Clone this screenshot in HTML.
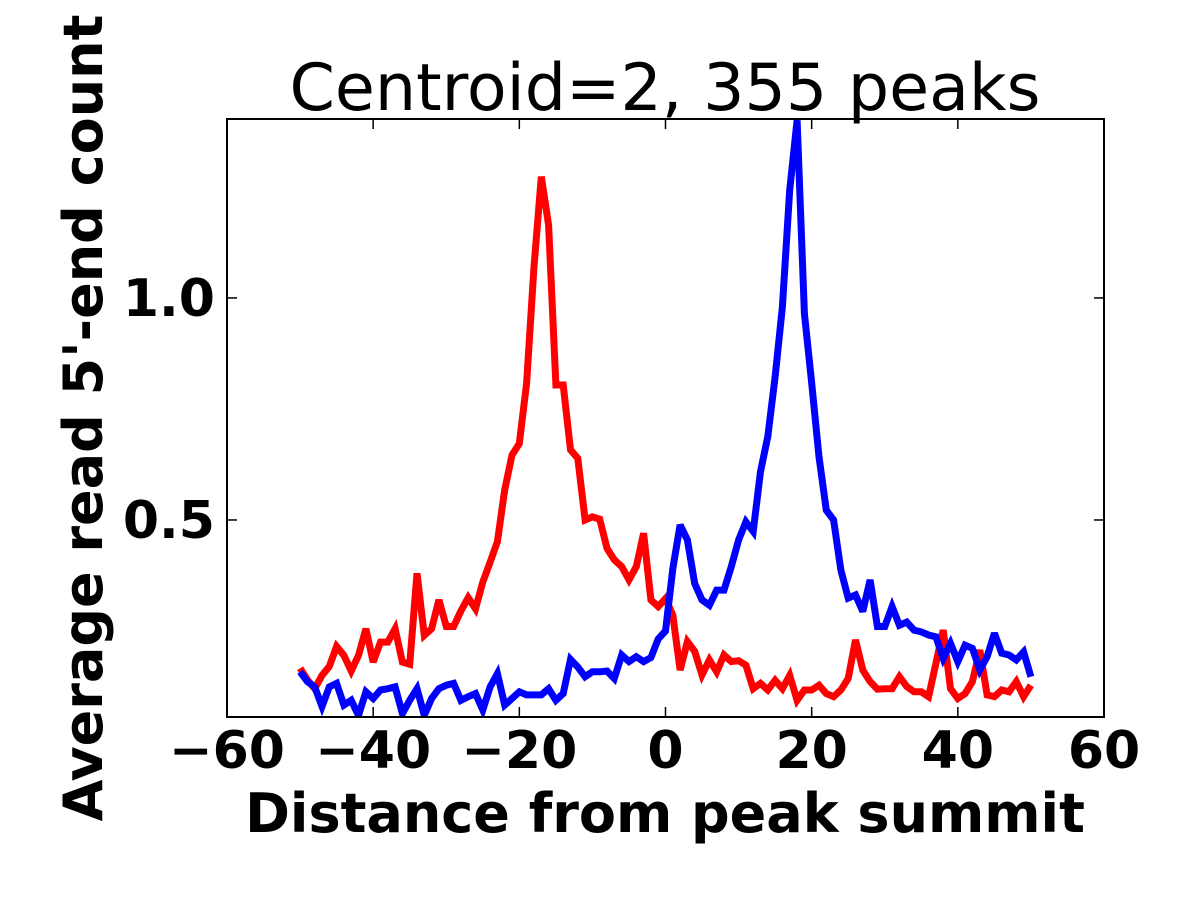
<!DOCTYPE html>
<html><head><meta charset="utf-8"><style>
body{margin:0;background:#fff;}
svg{display:block;font-family:"DejaVu Sans","Liberation Sans",sans-serif;}
</style></head><body>
<svg id="chart" width="1200" height="900">
<text x="665" y="110" font-size="65" text-anchor="middle">Centroid=2, 355 peaks</text>
<text x="665" y="832" font-size="54" font-weight="bold" text-anchor="middle">Distance from peak summit</text>
<text transform="translate(102,418) rotate(-90)" font-size="54" font-weight="bold" text-anchor="middle">Average read 5'-end count</text>
<g id="ticks"></g>
<g id="lines"></g>
<rect x="227" y="119" width="877" height="598" fill="none" stroke="#000" stroke-width="2"/>
</svg>
<script>
const xs = [];
for (let i = -50; i <= 50; i++) xs.push(i);
const redValues = [0.166,0.14,0.12,0.15,0.17,0.215,0.195,0.16,0.195,0.255,0.18,0.225,0.225,0.255,0.18,0.175,0.38,0.24,0.255,0.32,0.26,0.26,0.295,0.325,0.30,0.36,0.405,0.451,0.568,0.646,0.672,0.808,1.07,1.273,1.164,0.804,0.804,0.658,0.639,0.50,0.507,0.502,0.436,0.41,0.395,0.365,0.395,0.47,0.32,0.305,0.323,0.286,0.162,0.226,0.204,0.151,0.185,0.158,0.196,0.181,0.183,0.173,0.12,0.132,0.117,0.139,0.12,0.15,0.094,0.117,0.117,0.128,0.109,0.102,0.117,0.143,0.23,0.162,0.136,0.119,0.12,0.12,0.147,0.125,0.113,0.113,0.102,0.177,0.252,0.12,0.098,0.109,0.136,0.207,0.106,0.102,0.117,0.113,0.136,0.102,0.128];
const blueValues = [0.158,0.136,0.124,0.08,0.124,0.132,0.083,0.094,0.06,0.113,0.098,0.117,0.12,0.124,0.064,0.094,0.12,0.06,0.098,0.12,0.128,0.132,0.094,0.102,0.109,0.072,0.124,0.154,0.083,0.098,0.113,0.106,0.106,0.106,0.12,0.094,0.109,0.186,0.169,0.147,0.158,0.158,0.16,0.143,0.196,0.181,0.192,0.181,0.19,0.232,0.25,0.39,0.489,0.455,0.357,0.32,0.308,0.342,0.342,0.395,0.455,0.496,0.474,0.609,0.688,0.822,0.98,1.243,1.40,0.965,0.808,0.642,0.522,0.50,0.387,0.324,0.331,0.294,0.365,0.26,0.26,0.305,0.263,0.27,0.252,0.248,0.241,0.237,0.188,0.222,0.181,0.218,0.211,0.162,0.192,0.245,0.2,0.196,0.185,0.203,0.147];
const xTicks = [-60,-40,-20,0,20,40,60];
const xTickLabels = ["\u221260","\u221240","\u221220","0","20","40","60"];
const yTicks = [0.5,1.0];
const yTickLabels = ["0.5","1.0"];
const L=227,R=1104,T=119,B=717, X0=-60,X1=60, Y0=0.0563,Y1=1.403;
const sx=v=>L+(v-X0)/(X1-X0)*(R-L);
const sy=v=>B-(v-Y0)/(Y1-Y0)*(B-T);
const NS='http://www.w3.org/2000/svg';
const tg=document.getElementById('ticks'), lg=document.getElementById('lines');
function mk(tag,attrs,parent){const e=document.createElementNS(NS,tag);for(const k in attrs)e.setAttribute(k,attrs[k]);parent.appendChild(e);return e;}
xTicks.forEach((t,i)=>{
  const x=sx(t);
  const a=mk('line',{x1:x,x2:x,y1:B,y2:B-10,stroke:'#000','stroke-width':1.5},tg);
  
  
  const b=mk('line',{x1:x,x2:x,y1:T,y2:T+10,stroke:'#000','stroke-width':1.5},tg);
  
  
  const tx=mk('text',{x:x,y:B+51,'font-size':52,'font-weight':'bold','text-anchor':'middle'},tg);
  tx.textContent=xTickLabels[i];
  
  
});
yTicks.forEach((t,i)=>{
  const y=sy(t);
  const a=mk('line',{x1:L,x2:L+10,y1:y,y2:y,stroke:'#000','stroke-width':1.5},tg);
  
  
  const b=mk('line',{x1:R,x2:R-10,y1:y,y2:y,stroke:'#000','stroke-width':1.5},tg);
  
  
  const tx=mk('text',{x:L-12,y:y+18,'font-size':52,'font-weight':'bold','text-anchor':'end'},tg);
  tx.textContent=yTickLabels[i];
  
  
});
function series(vals,color,name){
  const d=vals.map((v,i)=>(i?'L':'M')+sx(xs[i]).toFixed(1)+','+sy(v).toFixed(1)).join('');
  const p=mk('path',{d:d,fill:'none',stroke:color,'stroke-width':7,'stroke-linejoin':'miter','stroke-miterlimit':3},lg);
  
  
}
const clip=mk('clipPath',{id:'c'},document.getElementById('chart'));
mk('rect',{x:L,y:T,width:R-L,height:B-T},clip);
lg.setAttribute('clip-path','url(#c)');
series(redValues,'#ff0000','red-series-line');
series(blueValues,'#0000ff','blue-series-line');
</script>
</body></html>
